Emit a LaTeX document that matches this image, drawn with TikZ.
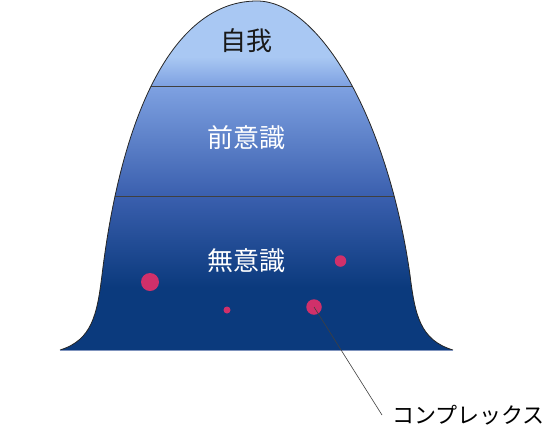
\documentclass[tikz,border=0pt]{standalone}
\usepackage{fontspec}
\newfontfamily\jpfont{Noto Sans CJK JP}
\usetikzlibrary{positioning}
\definecolor{topblue}{HTML}{A9C8F3}
\definecolor{midlight}{HTML}{7FA2E2}
\definecolor{midblue}{HTML}{3A5FAE}
\definecolor{navy}{HTML}{0B3A7D}
\definecolor{complexpink}{HTML}{D0306A}
\definecolor{rimgray}{HTML}{7F93BD}
\pgfdeclareverticalshading{mound}{100bp}{color(0bp)=(navy); color(34bp)=(navy); color(47bp)=(midblue); color(63bp)=(midlight); color(67bp)=(topblue); color(100bp)=(topblue)}
\def\moundpath{(60,350) .. controls (92,340) and (97,315) .. (102,275)
  .. controls (122,110) and (175,1) .. (257,1)
  .. controls (320,1) and (388,120) .. (410,275)
  .. controls (415,315) and (420,340) .. (453,350)}

\begin{document}
\begin{tikzpicture}[x=1pt,y=-1pt]
\tikzstyle{every node}+=[font=\jpfont\fontsize{26}{30}\selectfont]
\tikzstyle{complex}=[circle,fill=complexpink,inner sep=0pt]
\useasboundingbox (0,0) rectangle (554,432);
\shade[shading=mound] \moundpath -- cycle;
\begin{scope}
\clip \moundpath -- cycle;
\draw[line width=0.7pt,black!75] (0,86) -- (554,86) (0,196) -- (554,196);
\end{scope}
\draw[line width=0.8pt,black!85] \moundpath;
\draw[line width=0.8pt,rimgray] (60,350) -- (453,350);

\node[text=black!90] (ego) at (246,41) {自我};
\node[text=white] (precon) at (246,138) {前意識};
\node[text=white] (uncon) at (246,261) {無意識};

\node[complex,minimum size=18pt] (c1) at (150,282) {};
\node[complex,minimum size=11.5pt] (c2) at (340.5,261) {};
\node[complex,minimum size=7pt] (c3) at (227,310) {};
\node[complex,minimum size=15.5pt] (c4) at (314,307) {};

\node[anchor=west,inner xsep=10pt,font=\jpfont\fontsize{22}{26}\selectfont] (cxlabel) at (382,415) {コンプレックス};
\draw[line width=0.6pt,black!75] (c4.center) -- (cxlabel.west);
\end{tikzpicture}
\end{document}
